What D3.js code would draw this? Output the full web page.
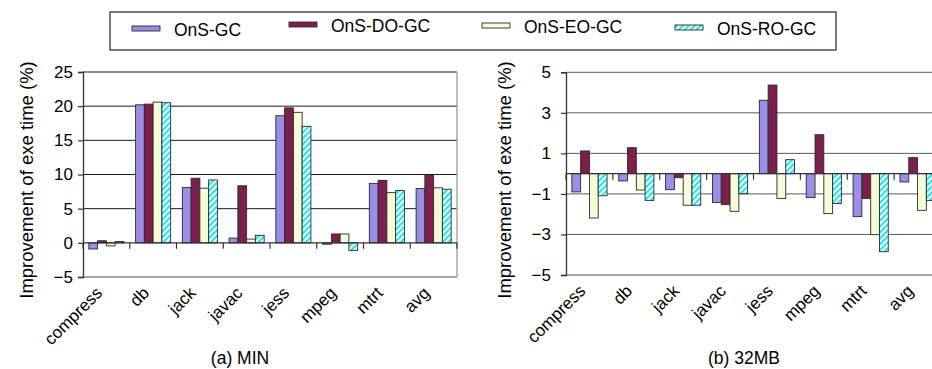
<!DOCTYPE html>
<html><head><meta charset="utf-8">
<script src="https://cdn.jsdelivr.net/npm/d3@7"></script>
<style>
body{margin:0;background:#fff;}
svg{display:block;font-family:"Liberation Sans",Arial,sans-serif;}
</style></head>
<body><svg id="c" width="932" height="369"></svg>
<script>
const categories = ["compress","db","jack","javac","jess","mpeg","mtrt","avg"];
const seriesNames = ["OnS-GC","OnS-DO-GC","OnS-EO-GC","OnS-RO-GC"];
const minGC = [-0.9, 20.2, 8.1, 0.7, 18.6, -0.2, 8.7, 7.95];
const minDO = [0.3, 20.3, 9.45, 8.35, 19.75, 1.3, 9.15, 9.9];
const minEO = [-0.45, 20.6, 8.0, 0.55, 19.1, 1.3, 7.35, 8.05];
const minRO = [0.2, 20.5, 9.2, 1.1, 17.05, -1.1, 7.65, 7.85];
const mbGC = [-0.9, -0.36, -0.79, -1.42, 3.62, -1.18, -2.12, -0.41];
const mbDO = [1.12, 1.28, -0.2, -1.53, 4.37, 1.92, -1.22, 0.79];
const mbEO = [-2.19, -0.81, -1.56, -1.86, -1.23, -1.97, -3.01, -1.81];
const mbRO = [-1.09, -1.32, -1.56, -0.99, 0.69, -1.47, -3.85, -1.32];
const minTicks = [-5, 0, 5, 10, 15, 20, 25];
const mbTicks = [-5, -3, -1, 1, 3, 5];
const yLabel = "Improvement of exe time (%)";

const svg = d3.select("#c");
const defs = svg.append("defs");
const pat = defs.append("pattern").attr("id","stripe").attr("patternUnits","userSpaceOnUse")
  .attr("width",4.2).attr("height",4.2).attr("patternTransform","rotate(45)");
pat.append("rect").attr("width",4.2).attr("height",4.2).attr("fill","#fff");
pat.append("rect").attr("width",2.3).attr("height",4.2).attr("fill","#2fe3f2");

const fills = ["#9a8ee8","#7d1f4c","#f6fbd8","url(#stripe)"];

function panel(opts){
  const g = svg.append("g");
  const x = d3.scaleBand().domain(categories).range([opts.x0, opts.x1]).paddingInner(0).paddingOuter(0);
  const step = x.bandwidth();
  const grp = step*0.75;
  const x1 = d3.scaleBand().domain(d3.range(4)).range([(step-grp)/2,(step+grp)/2]);
  const y = d3.scaleLinear().domain(opts.domain).range([opts.yb, opts.yt]);
  g.append("g").selectAll("line").data(opts.ticks.filter(t=>t!==opts.domain[0] && t!==0)).join("line")
    .attr("x1",opts.x0).attr("x2",opts.x1).attr("y1",d=>y(d)).attr("y2",d=>y(d))
    .attr("stroke",opts.gridColor).attr("stroke-width",1);
  g.append("line").attr("x1",opts.x0).attr("x2",opts.x1).attr("y1",y(opts.domain[0])).attr("y2",y(opts.domain[0]))
    .attr("stroke","#8a8a8a").attr("stroke-width",1.3);
  g.append("line").attr("x1",opts.x1).attr("x2",opts.x1).attr("y1",y(opts.domain[1])).attr("y2",y(opts.domain[0]))
    .attr("stroke","#9a9a9a").attr("stroke-width",1.3);
  opts.series.forEach((vals,si)=>{
    g.append("g").selectAll("rect").data(vals).join("rect")
      .attr("x",(d,i)=>x(categories[i])+x1(si))
      .attr("width",x1.bandwidth())
      .attr("y",d=>y(Math.max(0,d)))
      .attr("height",d=>Math.abs(y(d)-y(0)))
      .attr("fill",fills[si]).attr("stroke","#2a2a2a").attr("stroke-width",0.9);
  });
  const xa = g.append("g");
  xa.append("line").attr("x1",opts.x0).attr("x2",opts.x1).attr("y1",y(0)).attr("y2",y(0))
    .attr("stroke","#333").attr("stroke-width",1.3);
  xa.selectAll("line.t").data(categories.concat(["end"])).join("line").attr("class","t")
    .attr("x1",(d,i)=>opts.x0+i*step).attr("x2",(d,i)=>opts.x0+i*step)
    .attr("y1",y(0)).attr("y2",y(0)+6).attr("stroke","#333").attr("stroke-width",1.2);
  const ya = d3.axisLeft(y).tickValues(opts.ticks).tickSize(5).tickPadding(opts.tickPad).tickFormat(d3.format("d"));
  const yg = g.append("g").attr("transform",`translate(${opts.x0},0)`).call(ya);
  yg.select(".domain").attr("stroke","#333").attr("stroke-width",1.3);
  yg.selectAll(".tick line").attr("stroke","#333").attr("stroke-width",1.2);
  yg.selectAll(".tick text").attr("font-size",17).attr("fill","#000")
    .attr("font-family","Liberation Sans, Arial, sans-serif");
  g.append("g").selectAll("text").data(categories).join("text")
    .attr("transform",d=>`translate(${x(d)+step/2-3},${opts.yb+17}) rotate(-45)`)
    .attr("text-anchor","end").attr("font-size",17).attr("fill","#000").text(d=>d);
  g.append("text").attr("transform",`translate(${opts.labelX},${opts.labelY}) rotate(-90)`)
    .attr("text-anchor","middle").attr("font-size",18.5).attr("fill","#000").text(yLabel);
  g.append("text").attr("x",opts.titleX).attr("y",364).attr("text-anchor","middle")
    .attr("font-size",17.5).attr("fill","#000").text(opts.title);
}

panel({x0:83,x1:457,domain:[-5,25],yb:277,yt:72,ticks:minTicks,series:[minGC,minDO,minEO,minRO],
  gridColor:"#1a1a1a",tickPad:5,labelX:33,labelY:180,titleX:240,title:"(a) MIN"});
panel({x0:566,x1:941,domain:[-5,5],yb:275,yt:72.3,ticks:mbTicks,series:[mbGC,mbDO,mbEO,mbRO],
  gridColor:"#5a5a5a",tickPad:10,labelX:511,labelY:180,titleX:744,title:"(b) 32MB"});

const leg = svg.append("g");
leg.append("rect").attr("x",110).attr("y",12).attr("width",726).attr("height",38)
  .attr("fill","none").attr("stroke","#333").attr("stroke-width",1.3);
const legendSwatchX = [132, 289, 482, 675];
const legendBase = [36, 32, 33, 35];
seriesNames.forEach((n,i)=>{
  leg.append("rect").attr("x",legendSwatchX[i]).attr("y",legendBase[i]-10).attr("width",28).attr("height",5)
    .attr("fill",fills[i]).attr("stroke","#2a2a2a").attr("stroke-width",0.9);
  leg.append("text").attr("x",legendSwatchX[i]+42).attr("y",legendBase[i]).attr("font-size",17.5)
    .attr("fill","#000").text(n);
});
</script></body></html>
